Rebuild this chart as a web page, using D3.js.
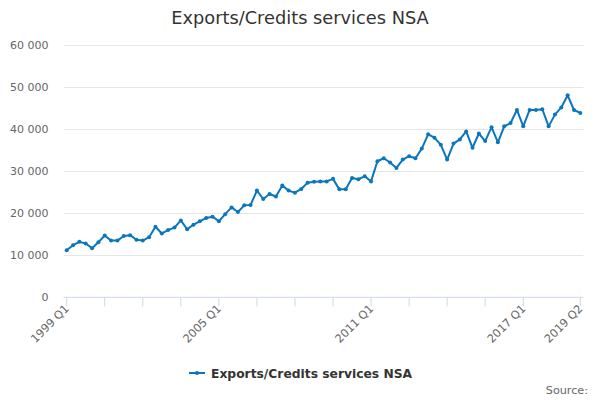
<!DOCTYPE html>
<html>
<head>
<meta charset="utf-8">
<script src="https://cdn.jsdelivr.net/npm/d3@7"></script>
<style>
  html, body { margin: 0; padding: 0; background: #fff; }
  svg { display: block; font-family: "DejaVu Sans", sans-serif; }
</style>
</head>
<body>
<svg id="chart" width="600" height="400"></svg>
<script>
const title = "Exports/Credits services NSA";
const seriesName = "Exports/Credits services NSA";
const startYear = 1999;
const categories = [];
for (let i = 0; i < 82; i++) {
  categories.push((startYear + Math.floor(i / 4)) + " Q" + (i % 4 + 1));
}
const values = [
  11200, 12400, 13200, 12800, 11700, 13100, 14700, 13500, 13500, 14600, 14800, 13700, 13500, 14300, 16800, 15200, 16000,
  16600, 18300, 16200, 17300, 18100, 18900, 19200, 18100, 19800, 21400, 20300, 21900, 22000, 25400, 23400, 24600,
  24000, 26600, 25400, 24900, 25800, 27300, 27500, 27600, 27600, 28200, 25700, 25700, 28400, 28100, 28800, 27600,
  32400, 33100, 32100, 30800, 32800, 33600, 33100, 35400, 38800, 38000, 36300, 32800, 36600, 37600, 39500, 35600,
  39000, 37200, 40500, 36900, 40700, 41500, 44600, 40700, 44600, 44600, 44800, 40700, 43500, 45200, 48100, 44600, 43900
];
const yTicks = [0, 10000, 20000, 30000, 40000, 50000, 60000];
const xTickLabels = ["1999 Q1", "2005 Q1", "2011 Q1", "2017 Q1", "2019 Q2"];
const xTickMarks = ["1999 Q1","2000 Q3","2002 Q1","2003 Q3","2005 Q1","2006 Q3","2008 Q1","2009 Q3","2011 Q1","2012 Q3","2014 Q1","2015 Q3","2017 Q1","2019 Q2"];
const sourceText = "Source:";

(function () {
const color = "#0a77bd";
const svg = d3.select("#chart");
const pLeft = 63.5, pRight = 583.5, pTop = 45.3, pBottom = 297.3;

const x = d3.scalePoint().domain(categories).range([pLeft, pRight]).padding(0.5);
const y = d3.scaleLinear().domain([0, 60000]).range([pBottom, pTop]);

const fmt = v => d3.format(",")(v).replace(/,/g, " ");

// grid
svg.append("g").selectAll("line").data(yTicks.filter(d => d > 0)).join("line")
  .attr("x1", pLeft).attr("x2", pRight)
  .attr("y1", d => Math.round(y(d)) + 0.5).attr("y2", d => Math.round(y(d)) + 0.5)
  .attr("stroke", "#e6e6e6").attr("stroke-width", 1);

// y labels
svg.append("g").selectAll("text").data(yTicks).join("text")
  .attr("x", 48.5).attr("y", d => y(d) + 4)
  .attr("text-anchor", "end").attr("font-size", 11).attr("fill", "#666")
  .text(fmt);

// x axis line
svg.append("line").attr("x1", pLeft).attr("x2", pRight)
  .attr("y1", pBottom).attr("y2", pBottom)
  .attr("stroke", "#ccd6eb").attr("stroke-width", 1);

// tick marks
svg.append("g").selectAll("line").data(xTickMarks).join("line")
  .attr("x1", d => x(d)).attr("x2", d => x(d))
  .attr("y1", pBottom).attr("y2", pBottom + 9)
  .attr("stroke", "#ccd6eb").attr("stroke-width", 1);

// x labels
svg.append("g").selectAll("text").data(xTickLabels).join("text")
  .attr("transform", d => `translate(${x(d) + 3},${pBottom + 12}) rotate(-45)`)
  .attr("text-anchor", "end").attr("font-size", 11.3).attr("fill", "#666")
  .text(d => d);

// line
const line = d3.line().x((d, i) => x(categories[i])).y(d => y(d));
svg.append("path").datum(values)
  .attr("d", line).attr("fill", "none")
  .attr("stroke", color).attr("stroke-width", 2)
  .attr("stroke-linejoin", "round").attr("stroke-linecap", "round");

svg.append("g").selectAll("circle").data(values).join("circle")
  .attr("cx", (d, i) => x(categories[i])).attr("cy", d => y(d))
  .attr("r", 2).attr("fill", color);

// title
svg.append("text").attr("x", 300).attr("y", 24)
  .attr("text-anchor", "middle").attr("font-size", 17.8).attr("fill", "#333")
  .text(title);

// legend
svg.append("line").attr("x1", 189).attr("x2", 205).attr("y1", 373).attr("y2", 373)
  .attr("stroke", color).attr("stroke-width", 2);
svg.append("circle").attr("cx", 197).attr("cy", 373).attr("r", 2).attr("fill", color);
svg.append("text").attr("x", 211).attr("y", 377.5)
  .attr("font-size", 12.3).attr("font-weight", "bold").attr("fill", "#333")
  .text(seriesName);

// credits
svg.append("text").attr("x", 588).attr("y", 394)
  .attr("text-anchor", "end").attr("font-size", 11.2).attr("fill", "#666")
  .text(sourceText);
})();
</script>
</body>
</html>
